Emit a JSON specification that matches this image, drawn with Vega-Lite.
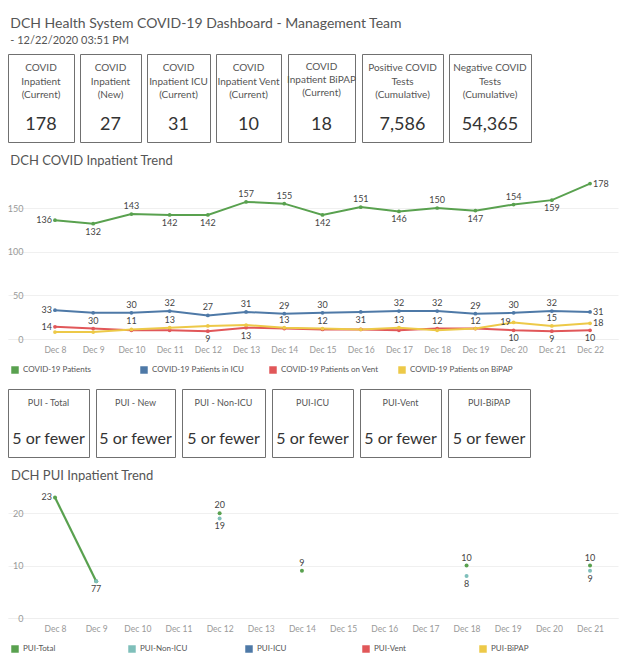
{
  "$schema": "https://vega.github.io/schema/vega-lite/v6.json",
  "background": "white",
  "padding": {"left": 7, "top": 16, "right": 5, "bottom": 4},
  "title": {"text": "DCH Health System COVID-19 Dashboard - Management Team", "subtitle": "- 12/22/2020 03:51 PM", "anchor": "start", "fontSize": 14, "fontWeight": "normal", "color": "#555", "subtitleColor": "#555", "subtitleFontSize": 11, "subtitlePadding": 4, "offset": 8, "dx": 3},
  "config": {"font": "Lato", "view": {"stroke": null}, "title": {"font": "Lato"}, "axis": {"labelFont": "Lato"}, "legend": {"labelFont": "Lato"}},
  "resolve": {"scale": {"fill": "independent", "stroke": "independent"}, "legend": {"fill": "independent", "stroke": "independent"}},
  "spacing": 12,
  "datasets": {
    "kpi": [
      {"id": 1, "label": "COVID\nInpatient\n(Current)", "value": 178},
      {"id": 2, "label": "COVID\nInpatient\n(New)", "value": 27},
      {"id": 3, "label": "COVID\nInpatient ICU\n(Current)", "value": 31},
      {"id": 4, "label": "COVID\nInpatient Vent\n(Current)", "value": 10},
      {"id": 5, "label": "COVID\nInpatient BiPAP\n(Current)", "value": 18},
      {"id": 6, "label": "Positive COVID\nTests\n(Cumulative)", "value": 7586},
      {"id": 7, "label": "Negative COVID\nTests\n(Cumulative)", "value": 54365}
    ],
    "puibox": [
      {"id": 1, "label": "PUI - Total", "value": "5 or fewer"},
      {"id": 2, "label": "PUI - New", "value": "5 or fewer"},
      {"id": 3, "label": "PUI - Non-ICU", "value": "5 or fewer"},
      {"id": 4, "label": "PUI-ICU", "value": "5 or fewer"},
      {"id": 5, "label": "PUI-Vent", "value": "5 or fewer"},
      {"id": 6, "label": "PUI-BiPAP", "value": "5 or fewer"}
    ],
    "covid": [
      {"day": "Dec 8", "series": "COVID-19 Patients", "value": 136},
      {"day": "Dec 9", "series": "COVID-19 Patients", "value": 132},
      {"day": "Dec 10", "series": "COVID-19 Patients", "value": 143},
      {"day": "Dec 11", "series": "COVID-19 Patients", "value": 142},
      {"day": "Dec 12", "series": "COVID-19 Patients", "value": 142},
      {"day": "Dec 13", "series": "COVID-19 Patients", "value": 157},
      {"day": "Dec 14", "series": "COVID-19 Patients", "value": 155},
      {"day": "Dec 15", "series": "COVID-19 Patients", "value": 142},
      {"day": "Dec 16", "series": "COVID-19 Patients", "value": 151},
      {"day": "Dec 17", "series": "COVID-19 Patients", "value": 146},
      {"day": "Dec 18", "series": "COVID-19 Patients", "value": 150},
      {"day": "Dec 19", "series": "COVID-19 Patients", "value": 147},
      {"day": "Dec 20", "series": "COVID-19 Patients", "value": 154},
      {"day": "Dec 21", "series": "COVID-19 Patients", "value": 159},
      {"day": "Dec 22", "series": "COVID-19 Patients", "value": 178},
      {"day": "Dec 8", "series": "COVID-19 Patients in ICU", "value": 33},
      {"day": "Dec 9", "series": "COVID-19 Patients in ICU", "value": 30},
      {"day": "Dec 10", "series": "COVID-19 Patients in ICU", "value": 30},
      {"day": "Dec 11", "series": "COVID-19 Patients in ICU", "value": 32},
      {"day": "Dec 12", "series": "COVID-19 Patients in ICU", "value": 27},
      {"day": "Dec 13", "series": "COVID-19 Patients in ICU", "value": 31},
      {"day": "Dec 14", "series": "COVID-19 Patients in ICU", "value": 29},
      {"day": "Dec 15", "series": "COVID-19 Patients in ICU", "value": 30},
      {"day": "Dec 16", "series": "COVID-19 Patients in ICU", "value": 31},
      {"day": "Dec 17", "series": "COVID-19 Patients in ICU", "value": 32},
      {"day": "Dec 18", "series": "COVID-19 Patients in ICU", "value": 32},
      {"day": "Dec 19", "series": "COVID-19 Patients in ICU", "value": 29},
      {"day": "Dec 20", "series": "COVID-19 Patients in ICU", "value": 30},
      {"day": "Dec 21", "series": "COVID-19 Patients in ICU", "value": 32},
      {"day": "Dec 22", "series": "COVID-19 Patients in ICU", "value": 31},
      {"day": "Dec 8", "series": "COVID-19 Patients on Vent", "value": 14},
      {"day": "Dec 9", "series": "COVID-19 Patients on Vent", "value": 12},
      {"day": "Dec 10", "series": "COVID-19 Patients on Vent", "value": 10},
      {"day": "Dec 11", "series": "COVID-19 Patients on Vent", "value": 10},
      {"day": "Dec 12", "series": "COVID-19 Patients on Vent", "value": 9},
      {"day": "Dec 13", "series": "COVID-19 Patients on Vent", "value": 13},
      {"day": "Dec 14", "series": "COVID-19 Patients on Vent", "value": 12},
      {"day": "Dec 15", "series": "COVID-19 Patients on Vent", "value": 11},
      {"day": "Dec 16", "series": "COVID-19 Patients on Vent", "value": 11},
      {"day": "Dec 17", "series": "COVID-19 Patients on Vent", "value": 10},
      {"day": "Dec 18", "series": "COVID-19 Patients on Vent", "value": 12},
      {"day": "Dec 19", "series": "COVID-19 Patients on Vent", "value": 12},
      {"day": "Dec 20", "series": "COVID-19 Patients on Vent", "value": 10},
      {"day": "Dec 21", "series": "COVID-19 Patients on Vent", "value": 9},
      {"day": "Dec 22", "series": "COVID-19 Patients on Vent", "value": 10},
      {"day": "Dec 8", "series": "COVID-19 Patients on BiPAP", "value": 8},
      {"day": "Dec 9", "series": "COVID-19 Patients on BiPAP", "value": 8},
      {"day": "Dec 10", "series": "COVID-19 Patients on BiPAP", "value": 11},
      {"day": "Dec 11", "series": "COVID-19 Patients on BiPAP", "value": 13},
      {"day": "Dec 12", "series": "COVID-19 Patients on BiPAP", "value": 15},
      {"day": "Dec 13", "series": "COVID-19 Patients on BiPAP", "value": 16},
      {"day": "Dec 14", "series": "COVID-19 Patients on BiPAP", "value": 13},
      {"day": "Dec 15", "series": "COVID-19 Patients on BiPAP", "value": 12},
      {"day": "Dec 16", "series": "COVID-19 Patients on BiPAP", "value": 11},
      {"day": "Dec 17", "series": "COVID-19 Patients on BiPAP", "value": 13},
      {"day": "Dec 18", "series": "COVID-19 Patients on BiPAP", "value": 10},
      {"day": "Dec 19", "series": "COVID-19 Patients on BiPAP", "value": 12},
      {"day": "Dec 20", "series": "COVID-19 Patients on BiPAP", "value": 19},
      {"day": "Dec 21", "series": "COVID-19 Patients on BiPAP", "value": 15},
      {"day": "Dec 22", "series": "COVID-19 Patients on BiPAP", "value": 18}
    ],
    "pui": [
      {"day": "Dec 8", "series": "PUI-Total", "value": 23},
      {"day": "Dec 9", "series": "PUI-Total", "value": 7},
      {"day": "Dec 10", "series": "PUI-Total", "value": null},
      {"day": "Dec 11", "series": "PUI-Total", "value": null},
      {"day": "Dec 12", "series": "PUI-Total", "value": 20},
      {"day": "Dec 13", "series": "PUI-Total", "value": null},
      {"day": "Dec 14", "series": "PUI-Total", "value": 9},
      {"day": "Dec 15", "series": "PUI-Total", "value": null},
      {"day": "Dec 16", "series": "PUI-Total", "value": null},
      {"day": "Dec 17", "series": "PUI-Total", "value": null},
      {"day": "Dec 18", "series": "PUI-Total", "value": 10},
      {"day": "Dec 19", "series": "PUI-Total", "value": null},
      {"day": "Dec 20", "series": "PUI-Total", "value": null},
      {"day": "Dec 21", "series": "PUI-Total", "value": 10},
      {"day": "Dec 9", "series": "PUI-Non-ICU", "value": 7},
      {"day": "Dec 12", "series": "PUI-Non-ICU", "value": 19},
      {"day": "Dec 18", "series": "PUI-Non-ICU", "value": 8},
      {"day": "Dec 21", "series": "PUI-Non-ICU", "value": 9}
    ]
  },
  "vconcat": [
    {
      "hconcat": [
        {"width": 66, "height": 88, "view": {"stroke": "#707070"}, "data": {"name": "kpi"}, "transform": [{"filter": "datum.id == 1"}],
         "layer": [
           {"mark": {"type": "text", "lineBreak": "\n", "fontSize": 10, "lineHeight": 13.7, "color": "#555", "baseline": "middle", "dy": -30}, "encoding": {"text": {"field": "label", "type": "nominal"}}},
           {"mark": {"type": "text", "fontSize": 18, "color": "#333", "baseline": "middle", "dy": 27}, "encoding": {"text": {"field": "value", "type": "quantitative", "format": ","}}}
         ]},
        {"width": 61, "height": 88, "view": {"stroke": "#707070"}, "data": {"name": "kpi"}, "transform": [{"filter": "datum.id == 2"}],
         "layer": [
           {"mark": {"type": "text", "lineBreak": "\n", "fontSize": 10, "lineHeight": 13.7, "color": "#555", "baseline": "middle", "dy": -30}, "encoding": {"text": {"field": "label", "type": "nominal"}}},
           {"mark": {"type": "text", "fontSize": 18, "color": "#333", "baseline": "middle", "dy": 27}, "encoding": {"text": {"field": "value", "type": "quantitative", "format": ","}}}
         ]},
        {"width": 63, "height": 88, "view": {"stroke": "#707070"}, "data": {"name": "kpi"}, "transform": [{"filter": "datum.id == 3"}],
         "layer": [
           {"mark": {"type": "text", "lineBreak": "\n", "fontSize": 10, "lineHeight": 13.7, "color": "#555", "baseline": "middle", "dy": -30}, "encoding": {"text": {"field": "label", "type": "nominal"}}},
           {"mark": {"type": "text", "fontSize": 18, "color": "#333", "baseline": "middle", "dy": 27}, "encoding": {"text": {"field": "value", "type": "quantitative", "format": ","}}}
         ]},
        {"width": 65, "height": 88, "view": {"stroke": "#707070"}, "data": {"name": "kpi"}, "transform": [{"filter": "datum.id == 4"}],
         "layer": [
           {"mark": {"type": "text", "lineBreak": "\n", "fontSize": 10, "lineHeight": 13.7, "color": "#555", "baseline": "middle", "dy": -30}, "encoding": {"text": {"field": "label", "type": "nominal"}}},
           {"mark": {"type": "text", "fontSize": 18, "color": "#333", "baseline": "middle", "dy": 27}, "encoding": {"text": {"field": "value", "type": "quantitative", "format": ","}}}
         ]},
        {"width": 67, "height": 88, "view": {"stroke": "#707070"}, "data": {"name": "kpi"}, "transform": [{"filter": "datum.id == 5"}],
         "layer": [
           {"mark": {"type": "text", "lineBreak": "\n", "fontSize": 10, "lineHeight": 13, "color": "#555", "baseline": "middle", "dy": -31}, "encoding": {"text": {"field": "label", "type": "nominal"}}},
           {"mark": {"type": "text", "fontSize": 18, "color": "#333", "baseline": "middle", "dy": 27}, "encoding": {"text": {"field": "value", "type": "quantitative", "format": ","}}}
         ]},
        {"width": 81, "height": 88, "view": {"stroke": "#707070"}, "data": {"name": "kpi"}, "transform": [{"filter": "datum.id == 6"}],
         "layer": [
           {"mark": {"type": "text", "lineBreak": "\n", "fontSize": 10, "lineHeight": 13.7, "color": "#555", "baseline": "middle", "dy": -30}, "encoding": {"text": {"field": "label", "type": "nominal"}}},
           {"mark": {"type": "text", "fontSize": 18, "color": "#333", "baseline": "middle", "dy": 27}, "encoding": {"text": {"field": "value", "type": "quantitative", "format": ","}}}
         ]},
        {"width": 82, "height": 88, "view": {"stroke": "#707070"}, "data": {"name": "kpi"}, "transform": [{"filter": "datum.id == 7"}],
         "layer": [
           {"mark": {"type": "text", "lineBreak": "\n", "fontSize": 10, "lineHeight": 13.7, "color": "#555", "baseline": "middle", "dy": -30}, "encoding": {"text": {"field": "label", "type": "nominal"}}},
           {"mark": {"type": "text", "fontSize": 18, "color": "#333", "baseline": "middle", "dy": 27}, "encoding": {"text": {"field": "value", "type": "quantitative", "format": ","}}}
         ]}
      ],
      "spacing": 4
    },
    {
      "width": 610,
      "height": 162,
      "title": {"text": "DCH COVID Inpatient Trend", "anchor": "start", "frame": "bounds", "fontSize": 13, "fontWeight": "normal", "color": "#555", "offset": 9, "dx": 3},
      "data": {"name": "covid"},
      "encoding": {
        "x": {"field": "day", "type": "ordinal", "scale": {"type": "point", "domain": ["Dec 8", "Dec 9", "Dec 10", "Dec 11", "Dec 12", "Dec 13", "Dec 14", "Dec 15", "Dec 16", "Dec 17", "Dec 18", "Dec 19", "Dec 20", "Dec 21", "Dec 22"], "padding": 0.98, "align": 0.627},
              "axis": {"title": null, "labelAngle": 0, "domain": true, "domainColor": "#eee", "ticks": false, "grid": false, "labelColor": "#999", "labelFontSize": 8.5, "labelPadding": 6}},
        "y": {"field": "value", "type": "quantitative", "scale": {"domain": [0, 185.5], "nice": false},
              "axis": {"title": null, "values": [0, 50, 100, 150], "grid": true, "gridColor": "#f0f0f0", "domain": false, "ticks": false, "labelColor": "#999", "labelFontSize": 9, "labelPadding": -15, "labelAlign": "right"}}
      },
      "layer": [
        {"mark": {"type": "line", "strokeWidth": 2},
         "encoding": {"stroke": {"field": "series", "type": "nominal", "scale": {"domain": ["COVID-19 Patients", "COVID-19 Patients in ICU", "COVID-19 Patients on Vent", "COVID-19 Patients on BiPAP"], "range": ["#59a14f", "#4e79a7", "#e15759", "#edc948"]},
           "legend": {"title": null, "orient": "none", "legendX": 1, "legendY": 187, "padding": 2, "direction": "horizontal", "columns": 4, "gridAlign": "all", "columnPadding": 14, "symbolType": "square", "symbolSize": 56, "symbolStrokeWidth": 0, "labelFontSize": 8, "labelColor": "#555", "labelOffset": 4}}}},
        {"mark": {"type": "point", "filled": true, "size": 14, "opacity": 1},
         "encoding": {"fill": {"field": "series", "type": "nominal", "scale": {"domain": ["COVID-19 Patients", "COVID-19 Patients in ICU", "COVID-19 Patients on Vent", "COVID-19 Patients on BiPAP"], "range": ["#59a14f", "#4e79a7", "#e15759", "#edc948"]},
           "legend": {"title": null, "orient": "none", "legendX": 1, "legendY": 187, "padding": 2, "direction": "horizontal", "columns": 4, "gridAlign": "all", "columnPadding": 14, "symbolType": "square", "symbolSize": 56, "symbolStrokeWidth": 0, "labelFontSize": 8, "labelColor": "#555", "labelOffset": 4}}}},
        {"transform": [{"filter": {"or": [
            {"and": [{"field": "series", "equal": "COVID-19 Patients"}, {"field": "day", "oneOf": ["Dec 10", "Dec 13", "Dec 14", "Dec 16", "Dec 18", "Dec 20"]}]},
            {"and": [{"field": "series", "equal": "COVID-19 Patients in ICU"}, {"field": "day", "oneOf": ["Dec 10", "Dec 11", "Dec 12", "Dec 13", "Dec 14", "Dec 15", "Dec 17", "Dec 18", "Dec 19", "Dec 20", "Dec 21"]}]},
            {"and": [{"field": "series", "equal": "COVID-19 Patients on BiPAP"}, {"field": "day", "oneOf": ["Dec 10", "Dec 11", "Dec 14", "Dec 15", "Dec 17", "Dec 19", "Dec 21"]}]},
            {"and": [{"field": "series", "equal": "COVID-19 Patients on Vent"}, {"field": "day", "oneOf": ["Dec 18"]}]}
          ]}}],
         "mark": {"type": "text", "fontSize": 9, "color": "#444", "baseline": "middle", "dy": -8},
         "encoding": {"text": {"field": "value", "type": "quantitative"}}},
        {"transform": [{"filter": {"or": [
            {"and": [{"field": "series", "equal": "COVID-19 Patients"}, {"field": "day", "oneOf": ["Dec 9", "Dec 11", "Dec 12", "Dec 15", "Dec 17", "Dec 19", "Dec 21"]}]},
            {"and": [{"field": "series", "equal": "COVID-19 Patients in ICU"}, {"field": "day", "oneOf": ["Dec 9", "Dec 16"]}]},
            {"and": [{"field": "series", "equal": "COVID-19 Patients on Vent"}, {"field": "day", "oneOf": ["Dec 12", "Dec 13", "Dec 20", "Dec 21", "Dec 22"]}]}
          ]}}],
         "mark": {"type": "text", "fontSize": 9, "color": "#444", "baseline": "middle", "dy": 8},
         "encoding": {"text": {"field": "value", "type": "quantitative"}}},
        {"transform": [{"filter": {"or": [
            {"and": [{"field": "day", "equal": "Dec 8"}, {"not": {"field": "series", "equal": "COVID-19 Patients on BiPAP"}}]},
            {"and": [{"field": "day", "equal": "Dec 20"}, {"field": "series", "equal": "COVID-19 Patients on BiPAP"}]}
          ]}}],
         "mark": {"type": "text", "fontSize": 9, "color": "#444", "baseline": "middle", "align": "right", "dx": -3},
         "encoding": {"text": {"field": "value", "type": "quantitative"}}},
        {"transform": [{"filter": "datum.day=='Dec 22' && datum.series!='COVID-19 Patients on Vent'"}],
         "mark": {"type": "text", "fontSize": 9, "color": "#444", "baseline": "middle", "align": "left", "dx": 3},
         "encoding": {"text": {"field": "value", "type": "quantitative"}}}
      ]
    },
    {
      "hconcat": [
        {"width": 81, "height": 68, "view": {"stroke": "#707070"}, "data": {"name": "puibox"}, "transform": [{"filter": "datum.id == 1"}],
         "layer": [
           {"mark": {"type": "text", "fontSize": 9, "color": "#555", "baseline": "middle", "dy": -20}, "encoding": {"text": {"field": "label", "type": "nominal"}}},
           {"mark": {"type": "text", "fontSize": 16, "color": "#333", "baseline": "middle", "dy": 16}, "encoding": {"text": {"field": "value", "type": "nominal"}}}
         ]},
        {"width": 79, "height": 68, "view": {"stroke": "#707070"}, "data": {"name": "puibox"}, "transform": [{"filter": "datum.id == 2"}],
         "layer": [
           {"mark": {"type": "text", "fontSize": 9, "color": "#555", "baseline": "middle", "dy": -20}, "encoding": {"text": {"field": "label", "type": "nominal"}}},
           {"mark": {"type": "text", "fontSize": 16, "color": "#333", "baseline": "middle", "dy": 16}, "encoding": {"text": {"field": "value", "type": "nominal"}}}
         ]},
        {"width": 83, "height": 68, "view": {"stroke": "#707070"}, "data": {"name": "puibox"}, "transform": [{"filter": "datum.id == 3"}],
         "layer": [
           {"mark": {"type": "text", "fontSize": 9, "color": "#555", "baseline": "middle", "dy": -20}, "encoding": {"text": {"field": "label", "type": "nominal"}}},
           {"mark": {"type": "text", "fontSize": 16, "color": "#333", "baseline": "middle", "dy": 16}, "encoding": {"text": {"field": "value", "type": "nominal"}}}
         ]},
        {"width": 81, "height": 68, "view": {"stroke": "#707070"}, "data": {"name": "puibox"}, "transform": [{"filter": "datum.id == 4"}],
         "layer": [
           {"mark": {"type": "text", "fontSize": 9, "color": "#555", "baseline": "middle", "dy": -20}, "encoding": {"text": {"field": "label", "type": "nominal"}}},
           {"mark": {"type": "text", "fontSize": 16, "color": "#333", "baseline": "middle", "dy": 16}, "encoding": {"text": {"field": "value", "type": "nominal"}}}
         ]},
        {"width": 81, "height": 68, "view": {"stroke": "#707070"}, "data": {"name": "puibox"}, "transform": [{"filter": "datum.id == 5"}],
         "layer": [
           {"mark": {"type": "text", "fontSize": 9, "color": "#555", "baseline": "middle", "dy": -20}, "encoding": {"text": {"field": "label", "type": "nominal"}}},
           {"mark": {"type": "text", "fontSize": 16, "color": "#333", "baseline": "middle", "dy": 16}, "encoding": {"text": {"field": "value", "type": "nominal"}}}
         ]},
        {"width": 82, "height": 68, "view": {"stroke": "#707070"}, "data": {"name": "puibox"}, "transform": [{"filter": "datum.id == 6"}],
         "layer": [
           {"mark": {"type": "text", "fontSize": 9, "color": "#555", "baseline": "middle", "dy": -20}, "encoding": {"text": {"field": "label", "type": "nominal"}}},
           {"mark": {"type": "text", "fontSize": 16, "color": "#333", "baseline": "middle", "dy": 16}, "encoding": {"text": {"field": "value", "type": "nominal"}}}
         ]}
      ],
      "spacing": 5
    },
    {
      "width": 610,
      "height": 131,
      "title": {"text": "DCH PUI Inpatient Trend", "anchor": "start", "frame": "bounds", "fontSize": 13, "fontWeight": "normal", "color": "#555", "offset": 7, "dy": 3, "dx": 3},
      "data": {"name": "pui"},
      "encoding": {
        "x": {"field": "day", "type": "ordinal", "scale": {"type": "point", "domain": ["Dec 8", "Dec 9", "Dec 10", "Dec 11", "Dec 12", "Dec 13", "Dec 14", "Dec 15", "Dec 16", "Dec 17", "Dec 18", "Dec 19", "Dec 20", "Dec 21"], "padding": 0.911, "align": 0.627},
              "axis": {"title": null, "labelAngle": 0, "domain": true, "domainColor": "#eee", "ticks": false, "grid": false, "labelColor": "#999", "labelFontSize": 8.5, "labelPadding": 6}},
        "y": {"field": "value", "type": "quantitative", "scale": {"domain": [0, 25], "nice": false},
              "axis": {"title": null, "values": [0, 10, 20], "grid": true, "gridColor": "#f0f0f0", "domain": false, "ticks": false, "labelColor": "#999", "labelFontSize": 9, "labelPadding": -15, "labelAlign": "right"}}
      },
      "layer": [
        {"transform": [{"filter": "datum.series == 'PUI-Total'"}],
         "mark": {"type": "line", "strokeWidth": 2.2, "invalid": "break-paths-show-domains"},
         "encoding": {"stroke": {"field": "series", "type": "nominal", "scale": {"domain": ["PUI-Total", "PUI-Non-ICU", "PUI-ICU", "PUI-Vent", "PUI-BiPAP"], "range": ["#59a14f", "#7fbfba", "#4e79a7", "#e15759", "#edc948"]},
           "legend": {"title": null, "orient": "none", "legendX": 1, "legendY": 156, "padding": 2, "direction": "horizontal", "columns": 5, "gridAlign": "all", "columnPadding": 57, "symbolType": "square", "symbolSize": 56, "symbolStrokeWidth": 0, "labelFontSize": 8, "labelColor": "#555", "labelOffset": 4}}}},
        {"mark": {"type": "point", "filled": true, "size": 16, "opacity": 1},
         "encoding": {"fill": {"field": "series", "type": "nominal", "scale": {"domain": ["PUI-Total", "PUI-Non-ICU", "PUI-ICU", "PUI-Vent", "PUI-BiPAP"], "range": ["#59a14f", "#7fbfba", "#4e79a7", "#e15759", "#edc948"]},
           "legend": {"title": null, "orient": "none", "legendX": 1, "legendY": 156, "padding": 2, "direction": "horizontal", "columns": 5, "gridAlign": "all", "columnPadding": 57, "symbolType": "square", "symbolSize": 56, "symbolStrokeWidth": 0, "labelFontSize": 8, "labelColor": "#555", "labelOffset": 4}}}},
        {"transform": [{"filter": "datum.series == 'PUI-Total' && datum.value != null && datum.day != 'Dec 8' && datum.day != 'Dec 9'"}],
         "mark": {"type": "text", "fontSize": 9, "color": "#444", "baseline": "middle", "dy": -8},
         "encoding": {"text": {"field": "value", "type": "quantitative"}}},
        {"transform": [{"filter": "datum.series == 'PUI-Non-ICU' && datum.day != 'Dec 9'"}],
         "mark": {"type": "text", "fontSize": 9, "color": "#444", "baseline": "middle", "dy": 8},
         "encoding": {"text": {"field": "value", "type": "quantitative"}}},
        {"transform": [{"filter": "datum.day == 'Dec 9' && datum.series == 'PUI-Total'"}],
         "mark": {"type": "text", "fontSize": 9, "color": "#444", "baseline": "middle", "dy": 8, "dx": -2.5},
         "encoding": {"text": {"field": "value", "type": "quantitative"}}},
        {"transform": [{"filter": "datum.day == 'Dec 9' && datum.series == 'PUI-Non-ICU'"}],
         "mark": {"type": "text", "fontSize": 9, "color": "#444", "baseline": "middle", "dy": 8, "dx": 2.5},
         "encoding": {"text": {"field": "value", "type": "quantitative"}}},
        {"transform": [{"filter": "datum.day == 'Dec 8' && datum.series == 'PUI-Total'"}],
         "mark": {"type": "text", "fontSize": 9, "color": "#444", "baseline": "middle", "align": "right", "dx": -3},
         "encoding": {"text": {"field": "value", "type": "quantitative"}}}
      ]
    }
  ]
}
